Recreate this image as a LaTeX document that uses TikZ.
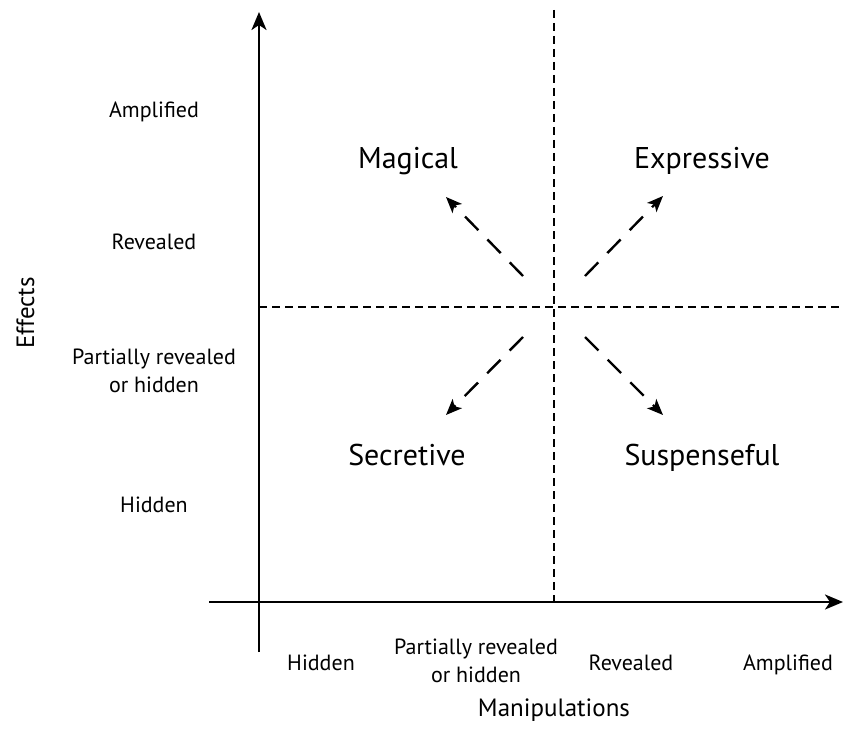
\documentclass[tikz,border=0pt]{standalone}
\usepackage{fontspec}
\setmainfont{PT Sans}
\usetikzlibrary{arrows.meta}
\begin{document}
\begin{tikzpicture}[x=1pt,y=-1pt,
  axis/.style={line width=2.6pt,-{Stealth[length=18pt,width=15pt,inset=5pt]}},
  grid/.style={line width=1.8pt,dash pattern=on 8pt off 5pt},
  diag/.style={line width=2.4pt,dash pattern=on 19pt off 13pt,-{Stealth[length=16pt,width=13pt,inset=4pt]}},
  small/.style={font=\fontsize{22}{28}\selectfont,align=center,inner sep=0pt},
  big/.style={font=\fontsize{30}{34}\selectfont,inner sep=0pt,anchor=base},
  title/.style={font=\fontsize{25}{28}\selectfont,inner sep=0pt,anchor=base}]
\useasboundingbox (0,0) rectangle (843,749);
% axes
\coordinate (ystart) at (259,652);
\coordinate (yend) at (259,12);
\coordinate (xstart) at (209,602);
\coordinate (xend) at (843,602);
\draw[axis] (ystart) -- (yend);
\draw[axis] (xstart) -- (xend);
% dashed grid
\coordinate (vtop) at (554,10);
\coordinate (vbot) at (554,602);
\coordinate (hl) at (259,307);
\coordinate (hr) at (843,307);
\draw[grid] (vtop) -- (vbot);
\draw[grid] (hl) -- (hr);
% diagonal arrows
\coordinate (ulA) at (523,276); \coordinate (ulB) at (446,197);
\coordinate (urA) at (585,276); \coordinate (urB) at (663,196);
\coordinate (llA) at (523,337); \coordinate (llB) at (446,415);
\coordinate (lrA) at (585,337); \coordinate (lrB) at (663,415);
\draw[diag] (ulA) -- (ulB);
\draw[diag] (urA) -- (urB);
\draw[diag] (llA) -- (llB);
\draw[diag] (lrA) -- (lrB);
% quadrant labels
\node[big] (magical) at (408,168) {Magical};
\node[big] (expressive) at (702,168) {Expressive};
\node[big] (secretive) at (407,465) {Secretive};
\node[big] (suspenseful) at (702,465) {Suspenseful};
% y labels
\node[small,anchor=base] (ya) at (154,118) {Amplified};
\node[small,anchor=base] (yr) at (154,249) {Revealed};
\node[small] (yp) at (154,371) {Partially revealed\\or hidden};
\node[small,anchor=base] (yh) at (154,512) {Hidden};
\node[title,rotate=90] (effects) at (34,313) {Effects};
% x labels
\node[small,anchor=base] (xh) at (321,670) {Hidden};
\node[small] (xp) at (476,661) {Partially revealed\\or hidden};
\node[small,anchor=base] (xr) at (631,670) {Revealed};
\node[small,anchor=base] (xa) at (788,670) {Amplified};
\node[title] (manip) at (554,716) {Manipulations};
\end{tikzpicture}
\end{document}
